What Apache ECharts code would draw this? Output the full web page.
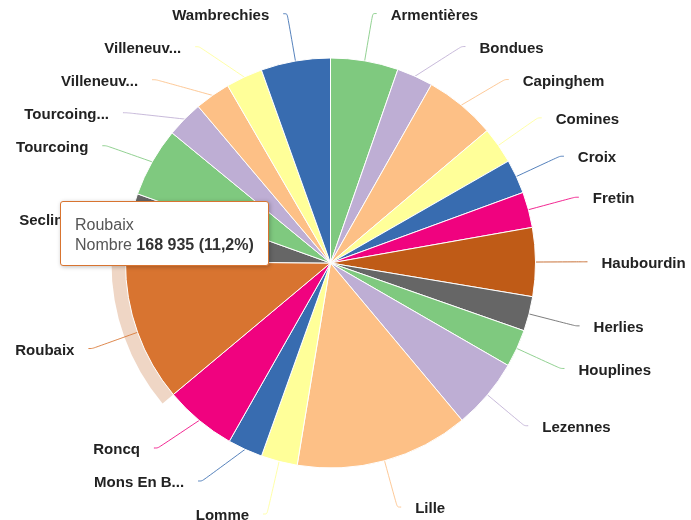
<!DOCTYPE html>
<html><head><meta charset="utf-8">
<script src="https://cdn.jsdelivr.net/npm/echarts@6.0.0/dist/echarts.min.js"></script>
<style>html,body{margin:0;padding:0;background:#fff}#c{width:691px;height:520px}</style>
</head><body><div id="c"></div>
<script>
const communes = ['Armentières','Bondues','Capinghem','Comines','Croix','Fretin','Haubourdin','Herlies','Houplines','Lezennes','Lille','Lomme','Mons En B...','Roncq','Roubaix','Seclin','Tourcoing','Tourcoing...','Villeneuv...','Villeneuv...','Wambrechies'];
const nombres = [80400,43200,85000,43600,40600,42300,81700,41100,44800,84200,206500,43200,41500,85900,168935,80900,82500,43600,42300,43600,82500];
const palette = ['#7fc97f','#beaed4','#fdc086','#ffff99','#386cb0','#f0027f','#bf5b17','#666666'];
const highlightIndex = 14;
const hoverColor = '#d87430';
const haloColor = '#efd6c5';
const fontFam = '"Liberation Sans", Arial, sans-serif';

// layout constants (pixels)
const CX = 330.5, CY = 263, R = 205, RL = 253, LEN2 = 4, GAP = 14, MINDY = 33, YMAX = 514;

function fmt(n){ return String(n).replace(/\B(?=(\d{3})+(?!\d))/g, ' '); }

// Label placement computed from the data's slice angles (clockwise from 12 o'clock)
function computeLabelLayout(){
  const total = nombres.reduce((a,b)=>a+b,0);
  let acc = 0;
  const items = nombres.map((v,i)=>{
    const a0 = acc/total*2*Math.PI; acc += v; const a1 = acc/total*2*Math.PI;
    const mid = (a0+a1)/2, s = Math.sin(mid), c = Math.cos(mid);
    return {i, side: s>=0?1:-1, y: CY - RL*c, nx: CX + RL*s, rx: CX + R*s, ry: CY - R*c};
  });
  [1,-1].forEach(side=>{
    const list = items.filter(d=>d.side===side).sort((a,b)=>a.y-b.y);
    for (let k=1;k<list.length;k++) if (list[k].y < list[k-1].y + MINDY) list[k].y = list[k-1].y + MINDY;
    const last = list[list.length-1]; if (last.y > YMAX) last.y = YMAX;
    for (let k=list.length-2;k>=0;k--) if (list[k].y > list[k+1].y - MINDY) list[k].y = list[k+1].y - MINDY;
  });
  const out = [];
  items.forEach(d=>{
    const dy = d.y - CY;
    const cxv = Math.abs(dy) < RL ? CX + d.side*Math.sqrt(RL*RL - dy*dy) : CX;
    const ex = d.side>0 ? Math.max(cxv, d.nx) : Math.min(cxv, d.nx);
    out[d.i] = {
      x: ex + d.side*(LEN2+GAP), y: d.y + 2,
      align: d.side>0 ? 'left' : 'right',
      pts: [[d.rx, d.ry],[ex, d.y],[ex + d.side*LEN2, d.y]]
    };
  });
  return out;
}
const labelPos = computeLabelLayout();

const chart = echarts.init(document.getElementById('c'), null, {renderer:'canvas'});
const mainData = nombres.map((v,i)=>({
  value:v, name:communes[i],
  itemStyle:{color: i===highlightIndex ? hoverColor : palette[i%palette.length]}
}));
const haloData = nombres.map((v,i)=>({
  value:v, name:communes[i],
  itemStyle:{color: i===highlightIndex ? haloColor : 'rgba(0,0,0,0)'}
}));
chart.setOption({
  animation:false,
  backgroundColor:'#fff',
  tooltip:{
    trigger:'item', triggerOn:'none', alwaysShowContent:true,
    position:[60,201], transitionDuration:0,
    backgroundColor:'#fff', borderColor:hoverColor, borderWidth:1, borderRadius:3,
    padding:[13,14,10,14],
    extraCssText:'box-shadow:1px 1px 4px rgba(0,0,0,0.25);',
    textStyle:{fontFamily:fontFam, fontSize:16, color:'#555'},
    formatter:p=>'<div style="line-height:20px;color:#555">'+p.name+'</div>'+
      '<div style="line-height:20px;color:#555">Nombre <b style="color:#333">'+fmt(p.value)+' ('+p.percent.toFixed(1).replace('.',',')+'%)</b></div>'
  },
  series:[
    {
      type:'pie', z:1, silent:true, tooltip:{show:false},
      center:[CX,CY], radius:[R,R+14],
      startAngle:90, clockwise:true,
      label:{show:false}, labelLine:{show:false},
      emphasis:{disabled:true},
      itemStyle:{borderWidth:0},
      data:haloData
    },
    {
      type:'pie', z:2,
      center:[CX,CY], radius:[0,R],
      startAngle:90, clockwise:true,
      avoidLabelOverlap:false,
      itemStyle:{borderColor:'#fff', borderWidth:1},
      emphasis:{scale:false},
      label:{
        show:true, formatter:'{b}', color:'#222', fontFamily:fontFam,
        fontSize:15, fontWeight:'bold'
      },
      labelLine:{show:true, length:48, length2:4, smooth:0.3, lineStyle:{width:1, opacity:0.85}},
      labelLayout:function(p){
        const L = labelPos[p.dataIndex];
        return {x:L.x, y:L.y, align:L.align, verticalAlign:'middle', labelLinePoints:L.pts};
      },
      data:mainData
    }
  ]
});
chart.dispatchAction({type:'showTip', seriesIndex:1, dataIndex:highlightIndex});
</script>
</body></html>
